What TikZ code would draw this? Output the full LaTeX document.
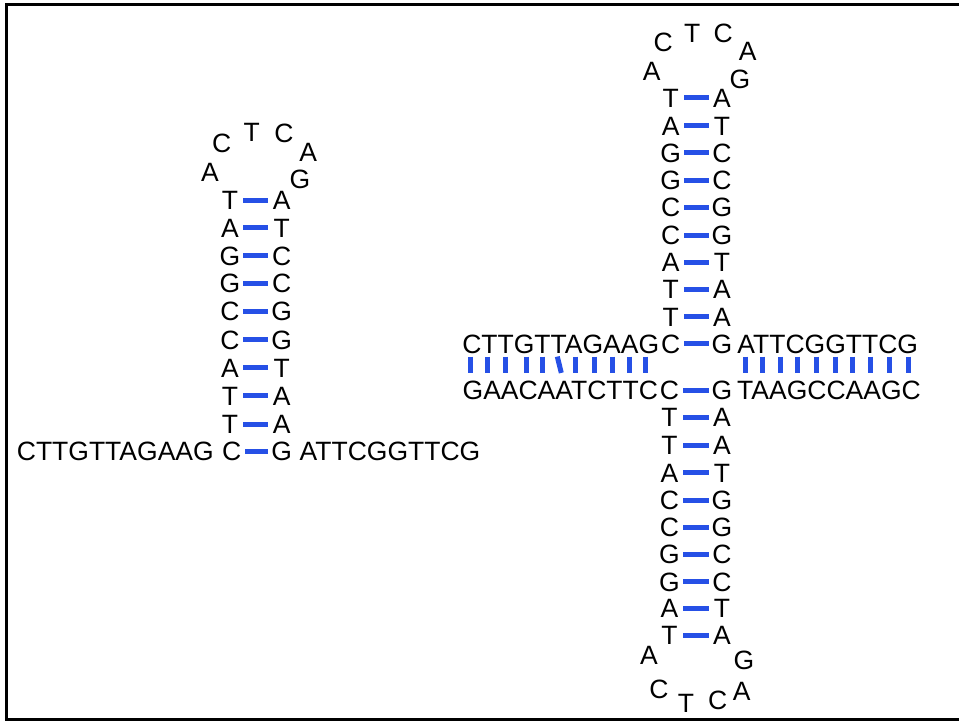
\documentclass[tikz,border=0pt]{standalone}
\usepackage{fontspec}
\setmainfont{Liberation Sans}
\usetikzlibrary{calc}
\definecolor{pairblue}{RGB}{38,80,230}
\begin{document}
\begin{tikzpicture}[x=1pt,y=-1pt,
  base/.style={font=\fontsize{26.5}{30}\selectfont, inner sep=0pt,
               text height=19pt, text depth=0pt, anchor=center},
  bp/.style={draw=pairblue, line width=5pt},
  vbp/.style={draw=pairblue, line width=5pt},
  frame/.style={draw=black, line width=3pt}]
\useasboundingbox (0,0) rectangle (959,721);
\clip (0,0) rectangle (959,721);

% open frame: top, left and bottom edges
\draw[frame] (962,4.2) -- (6.7,4.2) -- (6.7,719.6) -- (962,719.6);

% ---------- single hairpin ----------
\node[base] (hA1) at (210,171.7) {A};
\node[base] (hC1) at (221.7,143.3) {C};
\node[base] (hT1) at (251.7,131.7) {T};
\node[base] (hC2) at (284,133.3) {C};
\node[base] (hA2) at (308.3,151.7) {A};
\node[base] (hG1) at (300,179.3) {G};
\foreach \y/\xl/\l/\r [count=\i] in {
    200/230/T/A, 227.5/230/A/T, 255.5/230/G/C, 283.3/230/G/C,
    311.3/230/C/G, 339.5/230/C/G, 367.5/230/A/T, 395.7/230/T/A,
    424/230/T/A, 451.3/231.7/C/G} {
  \node[base] (hL\i) at (\xl,\y) {\l};
  \node[base] (hR\i) at (281.7,\y) {\r};
  \draw[bp] ([xshift=13.3pt]hL\i.center) -- ([xshift=-13.4pt]hR\i.center);
}
\node[base] (hTailL) at (115.3,451.3) {CTTGTTAGAAG};
\node[base] (hTailR) at (390,451.3) {ATTCGGTTCG};

% ---------- cruciform: upper hairpin ----------
\node[base] (uA1) at (651.7,71) {A};
\node[base] (uC1) at (663.3,41.7) {C};
\node[base] (uT1) at (692.3,33.3) {T};
\node[base] (uC2) at (723.3,33.3) {C};
\node[base] (uA2) at (747.7,50.7) {A};
\node[base] (uG1) at (740,79) {G};
\foreach \y/\l/\r [count=\i] in {
    97.7/T/A, 125.7/A/T, 152.7/G/C, 180/G/C, 207.3/C/G,
    235/C/G, 262.3/A/T, 289.3/T/A, 316.7/T/A, 343.5/C/G} {
  \node[base] (uL\i) at (670.7,\y) {\l};
  \node[base] (uR\i) at (722,\y) {\r};
  \draw[bp] ([xshift=13.6pt]uL\i.center) -- ([xshift=-13pt]uR\i.center);
}

% ---------- cruciform: lower hairpin ----------
\foreach \y/\l/\r [count=\i] in {
    390/C/G, 417.3/T/A, 445/T/A, 472.7/A/T, 500/C/G,
    527.3/C/G, 554.3/G/C, 581.7/G/C, 608.3/A/T, 635/T/A} {
  \node[base] (dL\i) at (669.5,\y) {\l};
  \node[base] (dR\i) at (722,\y) {\r};
  \draw[bp] ([xshift=13.5pt]dL\i.center) -- ([xshift=-13pt]dR\i.center);
}
\node[base] (dA1) at (649,655) {A};
\node[base] (dC1) at (659,689.3) {C};
\node[base] (dT1) at (686,703.3) {T};
\node[base] (dC2) at (717.7,700) {C};
\node[base] (dA2) at (741.7,690.7) {A};
\node[base] (dG1) at (744,660) {G};

% ---------- cruciform: flanking duplex arms ----------
\node[base] (armTL) at (560.7,343.5) {CTTGTTAGAAG};
\node[base] (armBL) at (560.3,390) {GAACAATCTTC};
\node[base] (armTR) at (827.7,343.5) {ATTCGGTTCG};
\node[base] (armBR) at (829,390) {TAAGCCAAGC};

\foreach \xt/\xb in {470.7/470.7, 487.3/487.3, 505/505, 526/526,
    542.7/542.7, 557.3/561.3, 575/575, 594.3/594.3, 612.7/612.7,
    629/629, 645.7/645.7}
  \draw[vbp] ($(armTL.south)+(\xt-560.7,3.4)$) -- ($(armBL.north)+(\xb-560.3,-7.4)$);
\foreach \xt in {745, 762.3, 780, 797.7, 816, 835, 852.3, 870.7, 889.3, 908.3}
  \draw[vbp] ($(armTR.south)+(\xt-827.7,3.4)$) -- ($(armBR.north)+(\xt-829,-7.4)$);
\end{tikzpicture}
\end{document}
